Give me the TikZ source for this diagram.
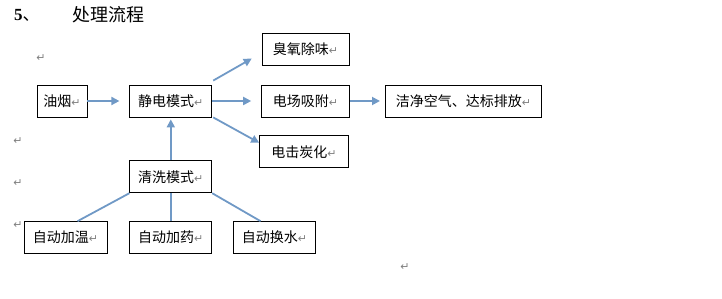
\documentclass[tikz,border=0pt]{standalone}
\usepackage{fontspec}
\setmainfont{Noto Sans CJK SC}
\newfontfamily\numfont{Liberation Serif}
\newfontfamily\symfont{DejaVu Sans}
\usepackage{xcolor}
\usepackage{tikz}
\usetikzlibrary{arrows.meta,positioning}
\definecolor{flowblue}{RGB}{112,153,198}
\newcommand{\pmk}{{\symfont\fontsize{11}{11}\selectfont\color{gray}↵}}

\begin{document}
\begin{tikzpicture}[x=1pt,y=1pt,font=\fontsize{14}{16}\selectfont,
  box/.style={draw,line width=0.8pt,minimum height=32pt,inner sep=1pt},
  pm/.style={inner sep=0pt},
  arr/.style={-{Triangle[length=8pt,width=8pt]},color=flowblue,line width=1.8pt},
  link/.style={draw=flowblue,line width=1.8pt}]
\useasboundingbox (-62,-198) rectangle (660,101);
% title
\node[anchor=west,inner sep=0pt] (num) at (-48,86)
  {\fontsize{17}{17}\selectfont{\numfont\bfseries 5}、};
\node[anchor=west,inner sep=0pt] (title) at (10,86)
  {\fontsize{18}{18}\selectfont 处理流程};
% main line
\node[box,minimum width=50pt] (yan) at (0,0) {油烟\pmk};
\node[box,minimum width=82pt,right=42pt of yan] (jingdian) {静电模式\pmk};
\node[box,minimum width=88pt,right=49pt of jingdian] (dianchang) {电场吸附\pmk};
\node[box,minimum width=156pt,right=35pt of dianchang] (jiejing) {洁净空气、达标排放\pmk};
\node[box,minimum width=87pt,above=19pt of dianchang] (chouyang) {臭氧除味\pmk};
\node[box,minimum width=89pt,below=18pt of dianchang,xshift=-1.5pt] (dianji) {电击炭化\pmk};
% cleaning
\node[box,minimum width=82pt,below=43pt of jingdian] (qingxi) {清洗模式\pmk};
\node[box,minimum width=82pt,below=28pt of qingxi] (jiayao) {自动加药\pmk};
\node[box,minimum width=83pt,left=22pt of jiayao] (jiawen) {自动加温\pmk};
\node[box,minimum width=82pt,right=21pt of jiayao] (huanshui) {自动换水\pmk};
% stray marks
\node[pm] (pm1) at (-21,43) {\pmk};
\node[pm] (pm2) at (-44,-40) {\pmk};
\node[pm] (pm3) at (-44,-82) {\pmk};
\node[pm] (pm4) at (-44,-124) {\pmk};
\node[pm] (pm5) at (343,-166) {\pmk};
% connectors
\draw[arr,shorten >=10pt] (yan) -- (jingdian);
\draw[arr,shorten >=10pt] (jingdian) -- (dianchang);
\draw[arr,shorten >=5pt] (dianchang) -- (jiejing);
\draw[arr] ([shift={(1pt,4pt)}]jingdian.north east) -- ([shift={(-10pt,7pt)}]chouyang.south west);
\draw[arr] ([xshift=1pt]jingdian.south east) -- ([yshift=9pt]dianji.west);
\draw[arr,shorten >=2pt] (qingxi) -- (jingdian);
\draw[link] (qingxi.south west) -- ([xshift=12pt]jiawen.north);
\draw[link] (qingxi) -- (jiayao);
\draw[link] (qingxi.south east) -- ([xshift=-14pt]huanshui.north);
\end{tikzpicture}
\end{document}
